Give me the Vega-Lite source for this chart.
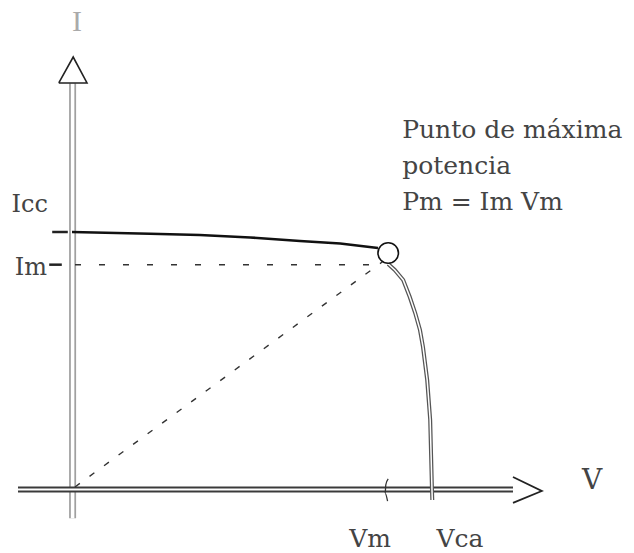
{
  "$schema": "https://vega.github.io/schema/vega-lite/v6.json",
  "width": 634,
  "height": 553,
  "autosize": {"type": "fit", "contains": "padding"},
  "padding": 0,
  "background": "white",
  "config": {"view": {"stroke": null}},
  "datasets": {
    "yShaft": [{"v": 0.001, "i": -0.33}, {"v": 0.001, "i": 4.73}],
    "xShaft": [{"v": -0.09, "i": 0.005}, {"v": 0.735, "i": 0.005}],
    "yHead": [
      {"v": -0.022, "i": 4.733, "k": 0},
      {"v": 0.002, "i": 5.035, "k": 1},
      {"v": 0.025, "i": 4.733, "k": 2},
      {"v": -0.022, "i": 4.733, "k": 3}
    ],
    "xHead": [
      {"v": 0.735, "i": 0.151, "k": 0},
      {"v": 0.783, "i": -0.012, "k": 1},
      {"v": 0.735, "i": -0.151, "k": 2}
    ],
    "flat": [
      {"v": 0.0, "i": 3.0},
      {"v": 0.13, "i": 2.98},
      {"v": 0.213, "i": 2.965},
      {"v": 0.297, "i": 2.936},
      {"v": 0.38, "i": 2.895},
      {"v": 0.447, "i": 2.866},
      {"v": 0.51, "i": 2.814}
    ],
    "knee": [
      {"v": 0.527, "i": 2.628},
      {"v": 0.538, "i": 2.558},
      {"v": 0.552, "i": 2.442},
      {"v": 0.563, "i": 2.244},
      {"v": 0.572, "i": 2.058},
      {"v": 0.58, "i": 1.86},
      {"v": 0.585, "i": 1.663},
      {"v": 0.592, "i": 1.279},
      {"v": 0.597, "i": 0.814},
      {"v": 0.5985, "i": 0.407},
      {"v": 0.6, "i": 0.0},
      {"v": 0.6005, "i": -0.116}
    ],
    "mpp": [{"v": 0.527, "i": 2.756}],
    "imGuide": [
      {"v": 0.005, "i": 2.62},
      {"v": 0.51, "i": 2.62}
    ],
    "diagGuide": [
      {"v": 0.005, "i": 0.035},
      {"v": 0.517, "i": 2.651}
    ],
    "ticks": [
      {"t": "icc", "v": -0.033, "i": 3.0},
      {"t": "icc", "v": -0.007, "i": 3.0},
      {"t": "im", "v": -0.038, "i": 2.62},
      {"t": "im", "v": -0.017, "i": 2.62}
    ],
    "vmTick": [
      {"v": 0.527, "i": 0.13, "k": 0},
      {"v": 0.523, "i": 0.06, "k": 1},
      {"v": 0.522, "i": -0.04, "k": 2},
      {"v": 0.526, "i": -0.13, "k": 3}
    ],
    "icc": [{"v": 0.0, "i": 3.0, "label": "Icc"}],
    "im": [{"v": 0.0, "i": 2.62, "label": "Im"}],
    "vm": [{"v": 0.527, "i": 0.0, "label": "Vm"}],
    "vca": [{"v": 0.6, "i": 0.0, "label": "Vca"}],
    "note": [{"v": 0.527, "i": 2.756, "label": "Punto de máxima\npotencia\nPm = Im Vm"}],
    "axisI": [{"v": 0.0, "i": 5.44, "label": "I"}],
    "axisV": [{"v": 0.867, "i": 0.1, "label": "V"}]
  },
  "encoding": {
    "x": {"field": "v", "type": "quantitative", "axis": null,
          "scale": {"domain": [-0.12, 0.9367], "nice": false, "zero": false}},
    "y": {"field": "i", "type": "quantitative", "axis": null,
          "scale": {"domain": [-0.733, 5.698], "nice": false, "zero": false}}
  },
  "layer": [
    {"data": {"name": "yShaft"}, "mark": {"type": "line", "color": "#a0a0a0", "strokeWidth": 7}},
    {"data": {"name": "yShaft"}, "mark": {"type": "line", "color": "white", "strokeWidth": 3.5}},
    {"data": {"name": "xShaft"}, "mark": {"type": "line", "color": "#3a3a3a", "strokeWidth": 6}},
    {"data": {"name": "xShaft"}, "mark": {"type": "line", "color": "white", "strokeWidth": 2}},
    {"data": {"name": "yHead"}, "mark": {"type": "line", "color": "#222", "strokeWidth": 1.6, "strokeJoin": "miter"},
     "encoding": {"order": {"field": "k", "type": "quantitative"}}},
    {"data": {"name": "xHead"}, "mark": {"type": "line", "color": "#222", "strokeWidth": 1.8, "strokeJoin": "miter"},
     "encoding": {"order": {"field": "k", "type": "quantitative"}}},
    {"data": {"name": "imGuide"}, "mark": {"type": "line", "color": "#333", "strokeWidth": 1.4, "strokeDash": [6, 18]}},
    {"data": {"name": "diagGuide"}, "mark": {"type": "line", "color": "#333", "strokeWidth": 1.4, "strokeDash": [6, 12]}},
    {"data": {"name": "ticks"}, "mark": {"type": "line", "color": "#222", "strokeWidth": 2.5},
     "encoding": {"detail": {"field": "t", "type": "nominal"}}},
    {"data": {"name": "vmTick"}, "mark": {"type": "line", "color": "#333", "strokeWidth": 1.3, "interpolate": "monotone"},
     "encoding": {"order": {"field": "k", "type": "quantitative"}}},
    {"data": {"name": "flat"}, "mark": {"type": "line", "color": "#111", "strokeWidth": 2.6}},
    {"data": {"name": "knee"}, "mark": {"type": "line", "color": "#555", "strokeWidth": 4}},
    {"data": {"name": "knee"}, "mark": {"type": "line", "color": "white", "strokeWidth": 1.5}},
    {"data": {"name": "mpp"}, "mark": {"type": "point", "shape": "circle", "size": 420, "filled": true,
      "fill": "white", "stroke": "#111", "strokeWidth": 1.6, "opacity": 1}},
    {"data": {"name": "axisI"}, "mark": {"type": "text", "font": "Liberation Serif", "fontSize": 30,
      "color": "#aaa", "align": "center", "baseline": "middle", "dx": 5},
     "encoding": {"text": {"field": "label"}}},
    {"data": {"name": "axisV"}, "mark": {"type": "text", "font": "DejaVu Serif", "fontSize": 28,
      "color": "#444", "align": "center", "baseline": "middle"},
     "encoding": {"text": {"field": "label"}}},
    {"data": {"name": "icc"}, "mark": {"type": "text", "font": "DejaVu Serif", "fontSize": 24,
      "color": "#444", "align": "right", "baseline": "middle", "dx": -24, "dy": -27},
     "encoding": {"text": {"field": "label"}}},
    {"data": {"name": "im"}, "mark": {"type": "text", "font": "DejaVu Serif", "fontSize": 24,
      "color": "#444", "align": "right", "baseline": "middle", "dx": -25, "dy": 3},
     "encoding": {"text": {"field": "label"}}},
    {"data": {"name": "vm"}, "mark": {"type": "text", "font": "DejaVu Serif", "fontSize": 25,
      "color": "#444", "align": "center", "baseline": "middle", "dx": -18, "dy": 49},
     "encoding": {"text": {"field": "label"}}},
    {"data": {"name": "vca"}, "mark": {"type": "text", "font": "DejaVu Serif", "fontSize": 25,
      "color": "#444", "align": "center", "baseline": "middle", "dx": 28, "dy": 49},
     "encoding": {"text": {"field": "label"}}},
    {"data": {"name": "note"}, "mark": {"type": "text", "font": "DejaVu Serif", "fontSize": 25,
      "color": "#444", "align": "left", "baseline": "top", "dx": 14, "dy": -135,
      "lineBreak": "\n", "lineHeight": 36},
     "encoding": {"text": {"field": "label"}}}
  ]
}
